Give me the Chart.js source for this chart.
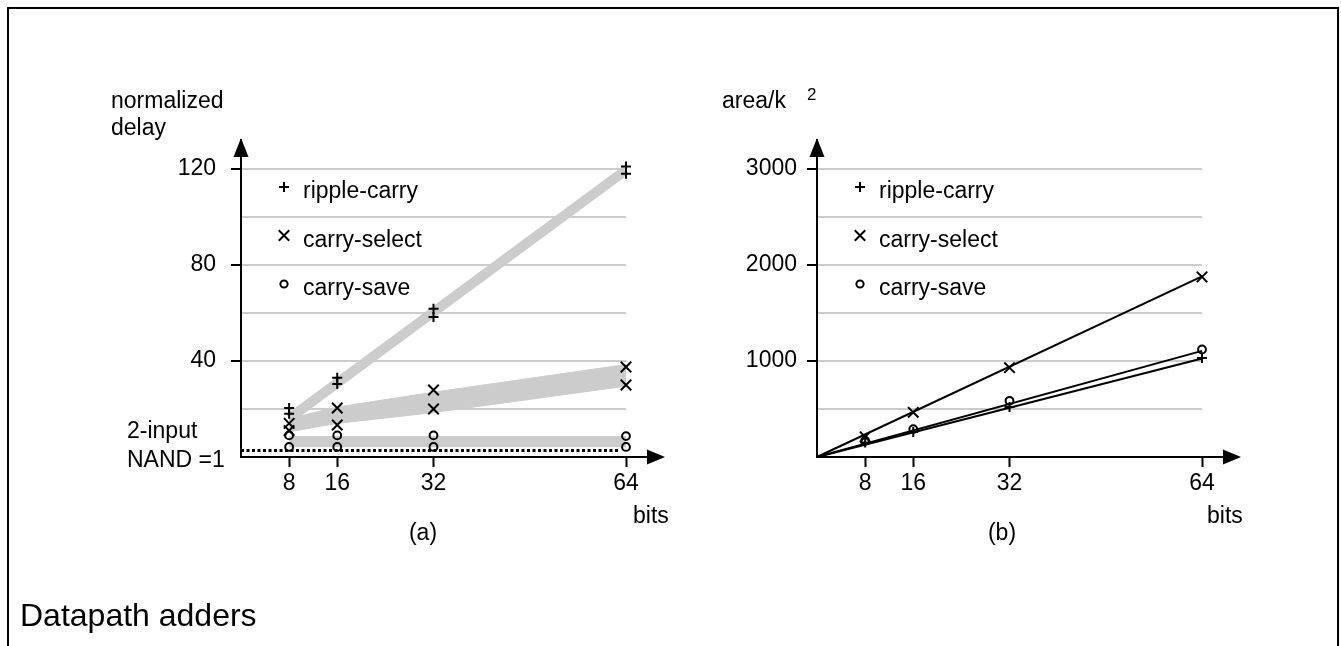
<!DOCTYPE html>
<html>
<head>
<meta charset="utf-8">
<script src="https://cdn.jsdelivr.net/npm/chart.js@4.4.1/dist/chart.umd.min.js"></script>
<style>
html, body { margin: 0; padding: 0; background: #fff; width: 1341px; height: 646px; overflow: hidden; }
#frame { position: absolute; left: 7px; top: 7px; width: 1332px; height: 720px; border: 2px solid #000; box-sizing: border-box; }
canvas { position: absolute; left: 0; top: 0; }
#title { position: absolute; left: 20px; top: 599px; font: 32px/32px "Liberation Sans", Arial, sans-serif; color: #000; white-space: nowrap; }
</style>
</head>
<body>
<div id="frame"></div>
<canvas id="chartA" width="1341" height="646"></canvas>
<canvas id="chartB" width="1341" height="646"></canvas>
<div id="title">Datapath adders</div>
<script>
// ---------- data ----------
const bits = [8, 16, 32, 64];
const seriesNames = ['ripple-carry', 'carry-select', 'carry-save'];
const delayGrid = [0, 20, 40, 60, 80, 100, 120];
const delayTickLabels = [40, 80, 120];
const areaGrid = [0, 500, 1000, 1500, 2000, 2500, 3000];
const areaTickLabels = [1000, 2000, 3000];

// (a) normalized delay: two measurements per word length
const rippleDelayHi = [20.4, 33, 61.7, 121];
const rippleDelayLo = [18, 30.4, 58.3, 117.9];
const selectDelayHi = [14, 20.4, 27.9, 37.5];
const selectDelayLo = [11, 13.3, 20, 30];
const saveDelayHi = [9, 9, 9, 8.7];
const saveDelayLo = [4.2, 4.2, 4.2, 4.2];

// (a) shaded trend bands
const rippleBandBits = [8, 64];
const rippleBand = [16, 119.5];
const selectBandHi = [16, 20.8, 27, 38.5];
const selectBandLo = [10.5, 14, 18.5, 29.5];
const saveBandHi = [8.5, 8.5, 8.5, 8.5];
const saveBandLo = [4.3, 4.3, 4.3, 4.3];
const nandBits = [0, 63];
const nandDelay = [2.7, 2.7];

// (b) area / k^2
const rippleArea = [150, 260, 520, 1030];
const selectArea = [210, 465, 930, 1875];
const saveArea = [170, 290, 585, 1120];
const fitBits = [0, 64];
const rippleFit = [0, 1025];
const selectFit = [0, 1880];
const saveFit = [0, 1105];

// ---------- helpers ----------
const FONT = '"Liberation Sans", Arial, sans-serif';
Chart.defaults.font.family = FONT;
Chart.defaults.color = '#000';
const GRAY = '#cccccc';
const CLEAR = 'rgba(0,0,0,0)';
const pts = (xs, ys) => xs.map((x, i) => ({ x: x, y: ys[i] }));

function markers(data, style, r) {
  return { data: data, showLine: false, pointStyle: style, pointRadius: r, pointHoverRadius: r,
    pointBorderColor: '#000', pointBackgroundColor: CLEAR, pointBorderWidth: 2, pointHoverBorderWidth: 2,
    clip: false, order: 0 };
}
function bandEdge(data, fill, order) {
  return { data: data, fill: fill, backgroundColor: GRAY, borderColor: GRAY, borderWidth: 1,
    pointRadius: 0, pointHoverRadius: 0, clip: false, order: order };
}

function drawMark(ctx, style, r, x, y) {
  ctx.beginPath();
  if (style === 'cross') {
    ctx.moveTo(x - r, y); ctx.lineTo(x + r, y); ctx.moveTo(x, y - r); ctx.lineTo(x, y + r);
  } else if (style === 'crossRot') {
    const d = r * Math.SQRT1_2;
    ctx.moveTo(x - d, y - d); ctx.lineTo(x + d, y + d); ctx.moveTo(x - d, y + d); ctx.lineTo(x + d, y - d);
  } else {
    ctx.arc(x, y, r, 0, Math.PI * 2);
  }
  ctx.stroke();
}

const decor = {
  id: 'decor',
  afterDraw(chart, args, o) {
    const ctx = chart.ctx, xs = chart.scales.x, ys = chart.scales.y, area = chart.chartArea;
    const x0 = xs.getPixelForValue(0), y0 = ys.getPixelForValue(0);
    const xTip = xs.getPixelForValue(64) + 39;
    const yTip = area.top - 2;
    ctx.save();
    ctx.strokeStyle = '#000'; ctx.fillStyle = '#000'; ctx.lineWidth = 2;
    ctx.beginPath(); ctx.moveTo(x0, y0); ctx.lineTo(xTip - 16, y0); ctx.stroke();
    ctx.beginPath(); ctx.moveTo(xTip, y0); ctx.lineTo(xTip - 18, y0 - 7.5); ctx.lineTo(xTip - 18, y0 + 7.5); ctx.closePath(); ctx.fill();
    ctx.beginPath(); ctx.moveTo(x0, y0); ctx.lineTo(x0, yTip + 16); ctx.stroke();
    ctx.beginPath(); ctx.moveTo(x0, yTip); ctx.lineTo(x0 - 7.5, yTip + 19); ctx.lineTo(x0 + 7.5, yTip + 19); ctx.closePath(); ctx.fill();
    // legend
    const styles = ['cross', 'crossRot', 'circle'];
    const radii = [5, 7.4, 3.6];
    ctx.font = '23px ' + FONT; ctx.textAlign = 'left'; ctx.textBaseline = 'alphabetic';
    seriesNames.forEach((name, i) => {
      const my = area.top + 47 + i * 48.5;
      drawMark(ctx, styles[i], radii[i], area.left + 43, my);
      ctx.fillText(name, area.left + 62, my + 11);
    });
    // axis texts
    o.texts.forEach(t => {
      ctx.font = (t.size || 23) + 'px ' + FONT;
      ctx.textAlign = t.align || 'left';
      ctx.fillText(t.text, t.x, t.y);
    });
    ctx.restore();
  }
};

function buildOptions(yMax, yGrid, yLabels, yWidth, yPad, padRight, texts) {
  return {
    responsive: false, animation: false, devicePixelRatio: 1,
    layout: { padding: { left: 0, top: 140, right: padRight, bottom: 129 } },
    plugins: { legend: { display: false }, tooltip: { enabled: false }, decor: { texts: texts } },
    elements: { line: { tension: 0 } },
    scales: {
      x: {
        type: 'linear', min: 0, max: 64,
        afterFit: s => { s.height = 60; },
        afterBuildTicks: s => { s.ticks = bits.map(v => ({ value: v })); },
        grid: { display: true, drawOnChartArea: false, drawTicks: true, tickLength: 10, tickWidth: 2, tickColor: '#000' },
        border: { display: true, color: '#000', width: 2 },
        ticks: { font: { size: 23 }, color: '#000', padding: 3, maxRotation: 0, autoSkip: false, callback: v => String(v) }
      },
      y: {
        type: 'linear', min: 0, max: yMax,
        afterFit: s => { s.width = yWidth; },
        afterBuildTicks: s => { s.ticks = yGrid.map(v => ({ value: v })); },
        grid: {
          color: c => (c.tick && c.tick.value > 0) ? GRAY : CLEAR, lineWidth: 2,
          drawTicks: true, tickLength: 10, tickWidth: 2,
          tickColor: c => (c.tick && yLabels.includes(c.tick.value)) ? '#000' : CLEAR
        },
        border: { display: true, color: '#000', width: 2 },
        ticks: { autoSkip: false, padding: yPad, font: { size: 23 }, color: '#000',
          callback: v => yLabels.includes(v) ? String(v) : '' }
      }
    }
  };
}

// ---------- (a) delay ----------
new Chart(document.getElementById('chartA'), {
  type: 'line',
  data: {
    datasets: [
      markers(pts(bits, rippleDelayHi).concat(pts(bits, rippleDelayLo)), 'cross', 5),
      markers(pts(bits, selectDelayHi).concat(pts(bits, selectDelayLo)), 'crossRot', 7.4),
      markers(pts(bits, saveDelayHi).concat(pts(bits, saveDelayLo)), 'circle', 3.9),
      { data: pts(nandBits, nandDelay), borderColor: '#000', borderWidth: 3, borderDash: [3, 2.5], borderCapStyle: 'butt',
        pointRadius: 0, pointHoverRadius: 0, fill: false, clip: false, order: 1 },
      { data: pts(rippleBandBits, rippleBand), borderColor: GRAY, borderWidth: 10, borderCapStyle: 'butt',
        pointRadius: 0, pointHoverRadius: 0, fill: false, clip: false, order: 3 },
      bandEdge(pts(bits, selectBandHi), '+1', 4),
      bandEdge(pts(bits, selectBandLo), false, 4),
      bandEdge(pts(bits, saveBandHi), '+1', 5),
      bandEdge(pts(bits, saveBandLo), false, 5)
    ]
  },
  options: buildOptions(132, delayGrid, delayTickLabels, 241, 15, 715, [
    { text: 'normalized', x: 111, y: 108 },
    { text: 'delay', x: 111, y: 135 },
    { text: '2-input', x: 127, y: 438 },
    { text: 'NAND =1', x: 127, y: 467 },
    { text: 'bits', x: 633, y: 523 },
    { text: '(a)', x: 423, y: 540, align: 'center' }
  ]),
  plugins: [decor]
});

// ---------- (b) area ----------
new Chart(document.getElementById('chartB'), {
  type: 'line',
  data: {
    datasets: [
      markers(pts(bits, rippleArea), 'cross', 5),
      markers(pts(bits, selectArea), 'crossRot', 7.4),
      markers(pts(bits, saveArea), 'circle', 3.9),
      { data: pts(fitBits, rippleFit), borderColor: '#000', borderWidth: 2, pointRadius: 0, pointHoverRadius: 0, fill: false, clip: false, order: 1 },
      { data: pts(fitBits, selectFit), borderColor: '#000', borderWidth: 2, pointRadius: 0, pointHoverRadius: 0, fill: false, clip: false, order: 1 },
      { data: pts(fitBits, saveFit), borderColor: '#000', borderWidth: 2, pointRadius: 0, pointHoverRadius: 0, fill: false, clip: false, order: 1 }
    ]
  },
  options: buildOptions(3300, areaGrid, areaTickLabels, 817, 10, 139, [
    { text: 'area/k', x: 722, y: 108 },
    { text: '2', x: 807, y: 100, size: 17 },
    { text: 'bits', x: 1207, y: 523 },
    { text: '(b)', x: 1002, y: 540, align: 'center' }
  ]),
  plugins: [decor]
});
</script>
</body>
</html>
